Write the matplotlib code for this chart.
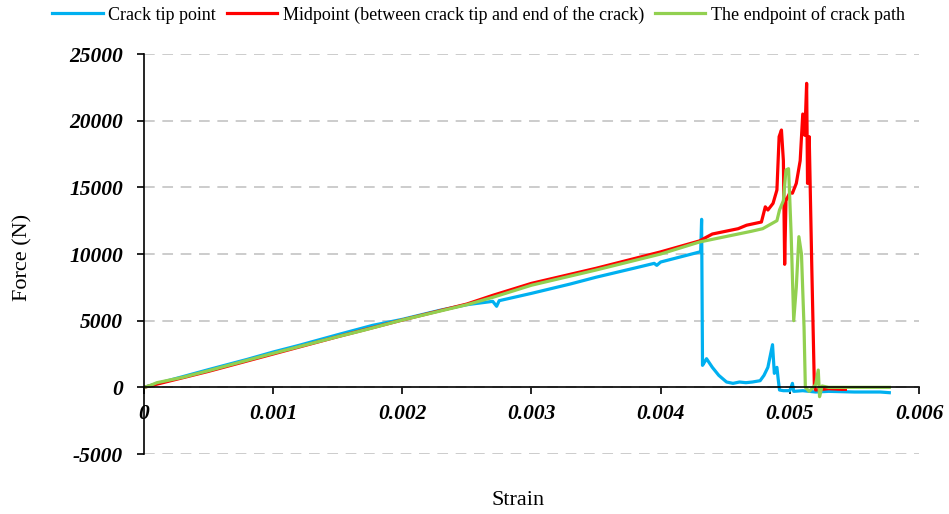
import numpy as np
import matplotlib.pyplot as plt
import matplotlib.ticker as ticker

tick_size = 15.5
label_size = 16
plt.rcParams['font.family'] = 'Liberation Serif'
plt.rcParams['axes.unicode_minus'] = False

# crack tip point
tip_strain = [0, 0.0001, 0.0003, 0.0005, 0.0008, 0.001, 0.0012, 0.0015, 0.00177, 0.002,
              0.0023, 0.0025, 0.0027, 0.00273, 0.00275, 0.003, 0.0033, 0.0035, 0.0038, 0.00395,
              0.00397, 0.004, 0.0042, 0.0043, 0.00431, 0.004317, 0.004324, 0.00434, 0.004355, 0.0044,
              0.00445, 0.00451, 0.00456, 0.00461, 0.00466, 0.00471, 0.00477, 0.0048, 0.00483, 0.004866,
              0.00488, 0.0049, 0.00491, 0.00492, 0.00495, 0.005, 0.00502, 0.00503, 0.0051, 0.0052,
              0.0053, 0.0055, 0.0057, 0.00577]
tip_force = [0, 280, 800, 1330, 2100, 2650, 3150, 3950, 4650, 5100,
             5800, 6200, 6450, 6080, 6500, 7050, 7750, 8260, 8950, 9300,
             9150, 9400, 9900, 10150, 10200, 12600, 1650, 1900, 2150, 1500,
             900, 400, 300, 400, 350, 400, 500, 900, 1500, 3200,
             1050, 1500, 600, -200, -250, -250, 300, -300, -250, -350,
             -300, -350, -350, -400]

# midpoint
mid_strain = [0, 0.0003, 0.0005, 0.001, 0.0015, 0.002, 0.0025, 0.0027, 0.003, 0.0035,
              0.004, 0.0043, 0.0044, 0.0045, 0.0046, 0.004665, 0.00478, 0.00481, 0.00483, 0.00487,
              0.0049, 0.004917, 0.004935, 0.00495, 0.00496, 0.00497, 0.005, 0.00502, 0.00505, 0.00508,
              0.0051, 0.005116, 0.00513, 0.005137, 0.00515, 0.00517, 0.00519, 0.0052, 0.0053, 0.0054,
              0.00543]
mid_force = [0, 720, 1200, 2500, 3800, 5050, 6250, 6900, 7800, 8930,
             10160, 10980, 11500, 11700, 11900, 12160, 12400, 13540, 13300, 13800,
             14800, 18800, 19300, 17000, 9230, 14000, 14600, 14560, 15300, 17000,
             20500, 18900, 22800, 15300, 18800, 9000, 0, -200, -100, -150,
             -150]

# endpoint of crack path
end_strain = [0, 0.00005, 0.0001, 0.0003, 0.0005, 0.001, 0.0015, 0.0017, 0.002, 0.0025,
              0.0027, 0.003, 0.0035, 0.004, 0.0043, 0.0045, 0.0047, 0.00479, 0.0049, 0.00492,
              0.00495, 0.00497, 0.00499, 0.005, 0.00501, 0.00503, 0.00505, 0.00507, 0.00509, 0.00511,
              0.00512, 0.00515, 0.0052, 0.00522, 0.00523, 0.00525, 0.0053, 0.0055, 0.0057, 0.00577]
end_force = [0, 150, 350, 750, 1250, 2550, 3800, 4280, 5050, 6200,
             6750, 7660, 8800, 10000, 10900, 11300, 11700, 11900, 12500, 13300,
             14000, 16300, 16400, 14000, 11500, 5000, 7500, 11300, 10000, 4500,
             0, -300, 200, 1300, -700, 100, 0, 0, 0, 0]

fig = plt.figure(figsize=(9.49, 5.14), dpi=100)
ax = fig.add_axes([0.1517, 0.1167, 0.8167, 0.7782])

ax.plot(tip_strain, tip_force, color='#00B0F0', linewidth=2.3, label='Crack tip point')
ax.plot(mid_strain, mid_force, color='#FF0000', linewidth=2.3,
        label='Midpoint (between crack tip and end of the crack)')
ax.plot(end_strain, end_force, color='#92D050', linewidth=2.3, label='The endpoint of crack path')

ax.set_xlim(0, 0.006)
ax.set_ylim(-5000, 25000)
ax.xaxis.set_major_locator(ticker.MultipleLocator(0.001))
ax.yaxis.set_major_locator(ticker.MultipleLocator(5000))
ax.xaxis.set_major_formatter(ticker.FuncFormatter(lambda v, p: '0' if v == 0 else '%g' % v))

ax.spines['top'].set_visible(False)
ax.spines['right'].set_visible(False)
ax.spines['bottom'].set_position(('data', 0))
ax.spines['bottom'].set_linewidth(1.2)
ax.spines['left'].set_linewidth(1.2)
ax.set_axisbelow(True)
ax.yaxis.grid(True, color='#BFBFBF', linewidth=1.1, linestyle=(0, (7, 5)))

ax.tick_params(axis='x', direction='out', length=5, width=1.2, pad=7, labelsize=tick_size)
ax.tick_params(axis='y', direction='out', length=5, width=1.2, pad=10, labelsize=tick_size)
for lab in ax.get_xticklabels() + ax.get_yticklabels():
    lab.set_fontweight('bold')
    lab.set_fontstyle('italic')

fig.text(0.546, 0.027, 'Strain', ha='center', va='center', fontsize=label_size)
fig.text(0.024, 0.5, 'Force (N)', ha='center', va='center', rotation=90, fontsize=label_size)

fig.legend(loc='center', bbox_to_anchor=(0.504, 0.971), ncol=3, frameon=False,
           fontsize=13, handlelength=2.8, handletextpad=0.3, columnspacing=0.6)

plt.savefig('out.png', dpi=100)
